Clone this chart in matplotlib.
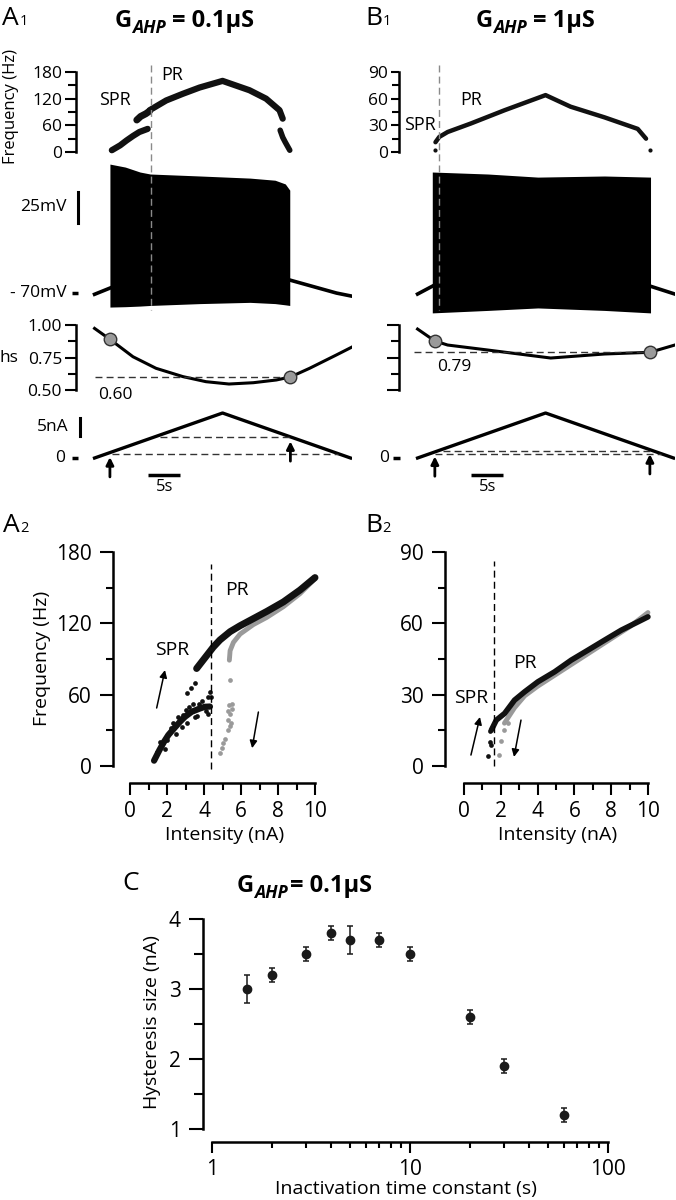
import numpy as np
import matplotlib
matplotlib.use("Agg")
import matplotlib.pyplot as plt
from matplotlib.lines import Line2D
from matplotlib.ticker import FixedLocator, NullFormatter
from matplotlib.transforms import blended_transform_factory

plt.rcParams['font.family'] = ['Open Sans', 'DejaVu Sans']
plt.rcParams['axes.linewidth'] = 1.8

# ---------------- data ----------------
# triangular current ramp (s, nA)
ramp_t = [0, 20, 40]
ramp_i = [0, 10, 0]

# A1  G_AHP = 0.1 uS : instantaneous frequency vs time (s, Hz)
a1_spr_t = [2.7, 4.0, 5.0, 6.0, 7.0, 8.3]
a1_spr_f = [4, 15, 26, 36, 45, 52]
a1_jump_t = [6.6, 7.2, 8.0, 8.6]
a1_jump_f = [72, 80, 86, 92]
a1_pr_t = [8.6, 11.2, 13.8, 16.4, 20.0, 24.2, 26.8, 28.9, 29.4]
a1_pr_f = [94, 116, 131, 145, 160, 139, 120, 94, 75]
a1_end_t = [29.0, 29.4, 29.8, 30.5]
a1_end_f = [49, 33, 22, 4]
a1_border_t = 8.8

# A1 membrane potential envelope (s, mV)
a1_v_env_t = [2.4, 4.8, 7.1, 8.7, 16.5, 24.3, 28.2, 29.8, 30.5]
a1_v_top = [34, 31.6, 27.6, 26, 24.4, 22.7, 21, 18, 13]
a1_v_bot = [-81.3, -81, -80.5, -80, -78.5, -77.5, -78.5, -79.5, -80]
a1_v_pre_t = [0, 2.4]
a1_v_pre = [-71, -66]
a1_v_post_t = [30.5, 37.8, 40.2]
a1_v_post = [-59.5, -70, -72.5]

# A1 inactivation variable hs
a1_hs_t = [0, 2.4, 6, 9.6, 13.8, 17.4, 21, 24.8, 28.4, 30.6, 33.6, 37.8, 40.2]
a1_hs = [0.974, 0.89, 0.756, 0.667, 0.603, 0.564, 0.546, 0.556, 0.577, 0.60, 0.667, 0.77, 0.83]
a1_on_t, a1_off_t = 2.4, 30.6
a1_hs_off = 0.60
a1_i_levels = [1.0, 4.7]

# B1  G_AHP = 1 uS
b1_f_t = [2.8, 3.4, 4.7, 8.3, 13.6, 20.0, 23.9, 29.2, 34.4, 35.7]
b1_f = [11, 17, 22.5, 32, 47, 64, 51, 39, 26, 15]
b1_dot_t = [2.7, 36.3]
b1_dot_f = [2, 2]
b1_border_t = 3.4

b1_v_env_t = [2.3, 11, 18.8, 29.2, 36.4]
b1_v_top = [27.6, 26, 23.5, 24.4, 23.5]
b1_v_bot = [-86, -84, -82, -84, -86]
b1_v_pre_t = [0, 2.3]
b1_v_pre = [-70.8, -64.5]
b1_v_post_t = [36.4, 40.2]
b1_v_post = [-64.5, -70.8]

b1_hs_t = [0, 2.7, 4.7, 10.9, 20.8, 29.2, 36.3, 40.2]
b1_hs = [0.969, 0.877, 0.846, 0.808, 0.746, 0.777, 0.79, 0.846]
b1_on_t, b1_off_t = 2.7, 36.3
b1_hs_off = 0.79
b1_i_levels = [1.0, 1.6]

# A2  frequency-current relation (nA, Hz); black = ascending, gray = descending
a2_up_spr_i = [1.30, 1.59, 1.84, 2.07, 2.38, 2.70, 2.97, 3.33, 3.78, 4.05, 4.32]
a2_up_spr_f = [4.5, 13.4, 20.4, 26.0, 31.6, 37.2, 41.4, 45.6, 48.4, 49.8, 50.0]
a2_up_dot_i = [1.6, 2.2, 2.6, 3.0, 3.4, 3.9, 4.2, 1.9, 2.5, 3.1, 3.6, 4.2, 3.06, 3.3, 3.51,
               4.36, 4.3, 1.45, 2.0, 2.35, 2.85, 3.2, 3.75, 4.1, 2.8, 3.5]
a2_up_dot_f = [20, 32, 41, 47, 52, 55, 58, 14, 27, 36, 42, 44, 61, 66, 70,
               58, 62, 12, 22, 36, 43, 50, 52, 46, 33, 41]
a2_up_pr_i = [3.6, 3.9, 4.2, 4.5, 4.86, 5.41, 5.95, 6.67, 7.39, 8.29, 9.19, 10.0]
a2_up_pr_f = [82, 88, 94, 100, 106, 113, 118, 124, 130, 138, 148, 158.5]
a2_down_i = [10.0, 9.19, 8.29, 7.39, 6.67, 5.95, 5.59, 5.41, 5.37]
a2_down_f = [157.6, 145, 134, 125, 119, 111, 104, 97, 89]
a2_down_dot_i = [5.41, 5.37, 5.5, 5.41, 5.32, 5.45, 5.41, 5.28, 5.14, 5.05, 4.95, 4.86, 5.5, 5.3]
a2_down_dot_f = [72, 51, 48, 44, 39, 36, 34, 30, 23, 19, 15, 11, 52, 46]
a2_border_i = 4.38

# B2
b2_up_i = [1.49, 1.76, 2.21, 2.75, 3.30, 4.02, 4.93, 5.83, 6.74, 7.64, 8.55, 9.46, 10.0]
b2_up_f = [15.1, 19.3, 22.1, 27.7, 31.2, 35.4, 39.6, 44.5, 48.7, 52.9, 57.1, 60.6, 62.7]
b2_up_dot_i = [1.3, 1.39, 1.49, 1.39]
b2_up_dot_f = [4.3, 10.2, 8.8, 14.8]
b2_down_i = [2.2, 2.75, 3.3, 4.0, 5.0, 6.0, 7.0, 8.0, 9.0, 10.0]
b2_down_f = [18, 24.5, 29.5, 33.5, 38.5, 43.5, 48.5, 53.5, 58.5, 64.5]
b2_down_dot_i = [2.0, 1.9, 2.2, 2.4]
b2_down_dot_f = [10.5, 4.8, 15, 18]
b2_border_i = 1.61

# C  hysteresis size vs inactivation time constant
tau_s = [1.5, 2, 3, 4, 5, 7, 10, 20, 30, 60]
hyst_nA = [3.0, 3.2, 3.5, 3.8, 3.7, 3.7, 3.5, 2.6, 1.9, 1.2]
hyst_err = [0.2, 0.1, 0.1, 0.1, 0.2, 0.1, 0.1, 0.1, 0.1, 0.1]

# ---------------- figure ----------------
W, H = 676, 1200
fig = plt.figure(figsize=(W / 100, H / 100), dpi=100)


def px_axes(x0, y0, x1, y1):
    return fig.add_axes([x0 / W, 1 - y1 / H, (x1 - x0) / W, (y1 - y0) / H])


ov = px_axes(0, 0, W, H)
ov.set_xlim(0, W)
ov.set_ylim(H, 0)
ov.axis('off')

DARK = '#111111'
GRAY = '#9a9a9a'


def panel_label(x, y, letter, sub):
    t = ov.text(x, y, letter, fontsize=19, va='baseline', ha='left')
    ov.annotate(sub, xy=(1, y), xycoords=(t, 'data'), xytext=(0.5, 0),
                textcoords='offset points', fontsize=10.5, va='baseline')


def gahp_title(x, y, value, gap=4, size=17):
    g = ov.text(x, y, 'G', fontsize=size, weight='bold', va='baseline')
    s = ov.annotate('AHP', xy=(1, y), xycoords=(g, 'data'), xytext=(0.3, -4),
                    textcoords='offset points', fontsize=size * 0.75,
                    weight='bold', style='italic', va='baseline')
    ov.annotate('= ' + value, xy=(1, y), xycoords=(s, 'data'), xytext=(gap, 0),
                textcoords='offset points', fontsize=size, weight='bold', va='baseline')


def hide(ax):
    for s in ax.spines.values():
        s.set_visible(False)
    ax.set_xticks([])
    ax.set_yticks([])
    ax.patch.set_visible(False)


def left_axis(ax, lo, hi, major, minor, labels, size, mlen, nlen, pad):
    for k in ('top', 'right', 'bottom'):
        ax.spines[k].set_visible(False)
    ax.spines['left'].set_bounds(lo, hi)
    ax.set_yticks(major)
    ax.set_yticklabels(labels)
    ax.yaxis.set_minor_locator(FixedLocator(minor))
    ax.tick_params(axis='y', which='major', length=mlen, width=1.5, pad=pad, labelsize=size)
    ax.tick_params(axis='y', which='minor', length=nlen, width=1.5)
    ax.set_xticks([])
    ax.patch.set_visible(False)


XL = (-2.9, 40.2)
PX_PER_S = 6.4


def column_axes(x0):
    x1 = x0 + (XL[1] - XL[0]) * PX_PER_S
    af = px_axes(x0, 60, x1, 160)
    av = px_axes(x0, 160, x1, 316)
    ah = px_axes(x0, 318, x1, 400)
    ai = px_axes(x0, 405, x1, 495)
    for ax in (af, av, ah, ai):
        ax.set_xlim(*XL)
    av.set_ylim(-88.5, 37.3)
    ah.set_ylim(0.423, 1.054)
    ai.set_ylim(-8.22, 11.78)
    hide(av)
    hide(ai)
    return af, av, ah, ai


def draw_voltage(ax, env_t, top, bot, pre_t, pre_v, post_t, post_v):
    ax.fill_between(env_t, bot, top, color='k', lw=0)
    ax.plot(pre_t, pre_v, color='k', lw=2.6)
    ax.plot(post_t, post_v, color='k', lw=2.6)


def draw_hs(ax, t, hs, on_t, off_t, level, dash_from):
    ax.plot(t, hs, color='k', lw=2.2)
    ax.plot([dash_from, off_t], [level, level], color='#333333', lw=1, dashes=(5, 3))
    ax.plot([on_t, off_t], np.interp([on_t, off_t], t, hs), 'o', ms=9,
            mfc='#9a9a9a', mec='#333333', mew=1, zorder=5)


def draw_current(ax, on_t, off_t, levels):
    ax.plot(ramp_t, ramp_i, color='k', lw=2.4)
    for lv in levels:
        t_up = np.interp(lv, ramp_i[:2], ramp_t[:2])
        t_dn = np.interp(-lv, [-ramp_i[1], -ramp_i[2]], ramp_t[1:])
        if lv > 2:
            t_dn = off_t
        ax.plot([t_up + 0.8, t_dn], [lv, lv], color='#333333', lw=1, dashes=(5, 3))
    for t0 in (on_t, off_t):
        i0 = np.interp(t0, ramp_t, ramp_i)
        ax.annotate('', xy=(t0, i0 - 1.0), xytext=(t0, i0 - 5.4),
                    arrowprops=dict(arrowstyle='-|>', color='k', lw=2,
                                    mutation_scale=11, shrinkA=0, shrinkB=0))
    ax.plot([8.4, 13.4], [-3.8, -3.8], color='k', lw=2.5, solid_capstyle='butt')
    ax.text(10.9, -6.4, '5s', ha='center', va='center', fontsize=12)


def divider(ax, t):
    tr = blended_transform_factory(ax.transData, fig.transFigure)
    fig.add_artist(Line2D([t, t], [1 - 65 / H, 1 - 310 / H], transform=tr,
                          color='#8a8a8a', lw=1, dashes=(5, 3)))


# ---------- column A ----------
af, av, ah, ai = column_axes(76)
af.set_ylim(-18, 207)
left_axis(af, 0, 180, [0, 60, 120, 180], [30, 90, 150], ['0', '60', '120', '180'],
          12.5, 8, 5.5, 2)
for tt, ff, lw in ((a1_spr_t, a1_spr_f, 4.5), (a1_jump_t, a1_jump_f, 5),
                   (a1_pr_t, a1_pr_f, 4.5), (a1_end_t, a1_end_f, 4)):
    af.plot(tt, ff, color=DARK, lw=lw, solid_capstyle='round', solid_joinstyle='round')

draw_voltage(av, a1_v_env_t, a1_v_top, a1_v_bot, a1_v_pre_t, a1_v_pre, a1_v_post_t, a1_v_post)
av.plot([-2.6, -2.6], [-13.5, 11.5], color='k', lw=2.2, clip_on=False)
av.text(-4.3, -1, '25mV', ha='right', va='center', fontsize=12.5)
av.text(-4.3, -70, '- 70mV', ha='right', va='center', fontsize=12.5)
av.plot([-3.5, -2.6], [-70, -70], color='k', lw=2.5, clip_on=False, solid_capstyle='butt')
divider(av, a1_border_t)

left_axis(ah, 0.5, 1.0, [0.5, 0.75, 1.0], [0.625, 0.875], ['0.50', '0.75', '1.00'],
          12.5, 8, 5.5, 2)
draw_hs(ah, a1_hs_t, a1_hs, a1_on_t, a1_off_t, a1_hs_off, 0)
ah.text(0.5, 0.46, '%.2f' % a1_hs_off, ha='left', va='center', fontsize=12.5)

draw_current(ai, a1_on_t, a1_off_t, a1_i_levels)
ai.plot([-2.3, -2.3], [4.9, 8.9], color='k', lw=2.2, clip_on=False)
ai.text(-4.1, 6.9, '5nA', ha='right', va='center', fontsize=12.5)
ai.text(-5.4, 0, '0', ha='center', va='center', fontsize=12.5)
ai.plot([-3.5, -2.6], [0, 0], color='k', lw=2.5, clip_on=False, solid_capstyle='butt')

# ---------- column B ----------
bf, bv, bh, bi = column_axes(399)
bf.set_ylim(-9, 103.5)
left_axis(bf, 0, 90, [0, 30, 60, 90], [15, 45, 75], ['0', '30', '60', '90'],
          12.5, 6, 5, 2)
bf.plot(b1_f_t, b1_f, color=DARK, lw=3.2, solid_capstyle='round', solid_joinstyle='round')
bf.plot(b1_dot_t, b1_dot_f, 'o', color=DARK, ms=3, mew=0)

draw_voltage(bv, b1_v_env_t, b1_v_top, b1_v_bot, b1_v_pre_t, b1_v_pre, b1_v_post_t, b1_v_post)
divider(bv, b1_border_t)

left_axis(bh, 0.5, 1.0, [0.5, 0.75, 1.0], [0.625, 0.875], ['', '', ''], 12.5, 9, 5.5, 2)
draw_hs(bh, b1_hs_t, b1_hs, b1_on_t, b1_off_t, b1_hs_off, -0.5)
bh.text(3.1, 0.677, '%.2f' % b1_hs_off, ha='left', va='center', fontsize=12.5)

draw_current(bi, b1_on_t, b1_off_t, b1_i_levels)
bi.text(-5.3, 0, '0', ha='center', va='center', fontsize=12.5)
bi.plot([-3.9, -2.8], [0, 0], color='k', lw=2.5, clip_on=False, solid_capstyle='butt')

# ---------- text of the top row ----------
panel_label(2, 25, 'A', '1')
panel_label(365, 25, 'B', '1')
gahp_title(115, 27, '0.1µS')
gahp_title(476, 27, '1µS')
ov.text(11, 106, 'Frequency (Hz)', rotation=90, ha='center', va='center', fontsize=12)
ov.text(9, 358, 'hs', ha='center', va='center', fontsize=12.5)
ov.text(115, 100, 'SPR', ha='center', va='center', fontsize=13)
ov.text(172, 75, 'PR', ha='center', va='center', fontsize=13)
ov.text(420, 125, 'SPR', ha='center', va='center', fontsize=13)
ov.text(471, 100, 'PR', ha='center', va='center', fontsize=13)


# ---------- A2 / B2 ----------
def fi_axes(box, xlim, ylim, ymax):
    ax = px_axes(*box)
    ax.set_xlim(*xlim)
    ax.set_ylim(*ylim)
    ax.spines['top'].set_visible(False)
    ax.spines['right'].set_visible(False)
    ax.spines['left'].set_bounds(0, ymax)
    ax.spines['bottom'].set_bounds(0, 10)
    ax.set_xticks(range(0, 11, 2))
    ax.xaxis.set_minor_locator(FixedLocator(range(1, 10, 2)))
    ax.set_yticks([0, ymax / 3, 2 * ymax / 3, ymax])
    ax.yaxis.set_minor_locator(FixedLocator([ymax / 6, ymax / 2, 5 * ymax / 6]))
    ax.yaxis.set_major_formatter(plt.FuncFormatter(lambda v, p: '%d' % v))
    ax.tick_params(axis='x', which='major', length=8.5, width=1.5, pad=4.5, labelsize=15)
    ax.tick_params(axis='x', which='minor', length=5, width=1.5)
    ax.tick_params(axis='y', which='major', length=9.5, width=1.5, pad=6, labelsize=15)
    ax.tick_params(axis='y', which='minor', length=5.3, width=1.5)
    ax.patch.set_visible(False)
    return ax


def fi_arrow(ax, tail, head):
    ax.annotate('', xy=head, xytext=tail,
                arrowprops=dict(arrowstyle='-|>', color='k', lw=1.1,
                                mutation_scale=11, shrinkA=0, shrinkB=0))


a2 = fi_axes((113, 545, 320, 783), (-0.92, 10.27), (-14.3, 185.9), 180)
a2.plot(a2_down_i, a2_down_f, color=GRAY, lw=3.5, solid_capstyle='round')
a2.plot(a2_down_dot_i, a2_down_dot_f, 'o', color=GRAY, ms=3.4, mew=0)
a2.plot(a2_up_spr_i, a2_up_spr_f, color=DARK, lw=4.5, solid_capstyle='round')
a2.plot(a2_up_dot_i, a2_up_dot_f, 'o', color=DARK, ms=3.4, mew=0)
a2.plot(a2_up_pr_i, a2_up_pr_f, color=DARK, lw=5, solid_capstyle='round')
a2.plot([a2_border_i, a2_border_i], [-2.5, 170], color='k', lw=1, dashes=(5, 3))
fi_arrow(a2, (1.44, 48.8), (1.89, 80.7))
fi_arrow(a2, (6.94, 45.4), (6.6, 15))
a2.text(2.27, 97.6, 'SPR', ha='center', va='center', fontsize=14)
a2.text(5.78, 148, 'PR', ha='center', va='center', fontsize=14)

b2 = fi_axes((445, 545, 652, 783), (-1.03, 10.22), (-7.15, 92.9), 90)
b2.plot(b2_down_i, b2_down_f, color=GRAY, lw=3.5, solid_capstyle='round')
b2.plot(b2_down_dot_i, b2_down_dot_f, 'o', color=GRAY, ms=3.4, mew=0)
b2.plot(b2_up_i, b2_up_f, color=DARK, lw=4, solid_capstyle='round')
b2.plot(b2_up_dot_i, b2_up_dot_f, 'o', color=DARK, ms=3.4, mew=0)
b2.plot([b2_border_i, b2_border_i], [0, 86], color='k', lw=1, dashes=(5, 3))
fi_arrow(b2, (0.38, 4.6), (0.87, 20.6))
fi_arrow(b2, (3.1, 19.3), (2.72, 3.8))
b2.text(0.38, 28.6, 'SPR', ha='center', va='center', fontsize=14)
b2.text(3.3, 43.3, 'PR', ha='center', va='center', fontsize=14)

panel_label(3, 532, 'A', '2')
panel_label(365, 532, 'B', '2')
ov.text(42, 658, 'Frequency (Hz)', rotation=90, ha='center', va='center', fontsize=14)
ov.text(225, 835, 'Intensity (nA)', ha='center', va='center', fontsize=14)
ov.text(558, 835, 'Intensity (nA)', ha='center', va='center', fontsize=14)

# ---------- C ----------
c = px_axes(203, 905, 610, 1142)
c.set_xscale('log')
c.set_xlim(0.901, 102.4)
c.set_ylim(0.814, 4.2)
c.spines['top'].set_visible(False)
c.spines['right'].set_visible(False)
c.spines['left'].set_bounds(1, 4)
c.spines['bottom'].set_bounds(1, 100)
c.set_xticks([1, 10, 100])
c.set_xticklabels(['1', '10', '100'])
c.xaxis.set_minor_locator(FixedLocator([2, 3, 4, 5, 6, 7, 8, 9, 20, 30, 40, 50, 60, 70, 80, 90]))
c.xaxis.set_minor_formatter(NullFormatter())
c.set_yticks([1, 2, 3, 4])
c.yaxis.set_minor_locator(FixedLocator([1.5, 2.5, 3.5]))
c.tick_params(axis='x', which='major', length=8, width=1.5, pad=4, labelsize=15)
c.tick_params(axis='x', which='minor', length=4.5, width=1.5)
c.tick_params(axis='y', which='major', length=10, width=1.5, pad=6, labelsize=15)
c.tick_params(axis='y', which='minor', length=6.5, width=1.5)
c.patch.set_visible(False)
c.errorbar(tau_s, hyst_nA, yerr=hyst_err, fmt='o', color='#1a1a1a', ms=6,
           capsize=2.5, elinewidth=1.1, capthick=1.1)

ov.text(131, 884, 'C', ha='center', va='center', fontsize=19)
gahp_title(237, 892, '0.1µS', gap=1.5)
ov.text(152, 1022, 'Hysteresis size (nA)', rotation=90, ha='center', va='center', fontsize=14)
ov.text(406, 1189, 'Inactivation time constant (s)', ha='center', va='center', fontsize=14)

fig.savefig('out.png', dpi=100)
